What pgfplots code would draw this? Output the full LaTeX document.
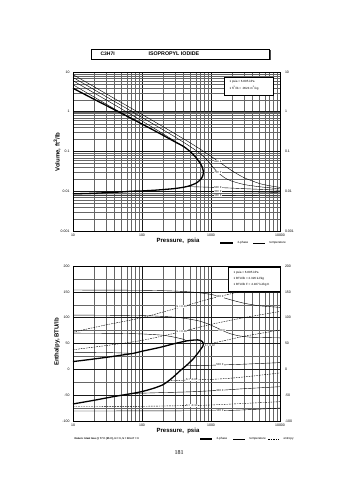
\documentclass[border=0pt]{standalone}
\usepackage{fontspec}
\setmainfont{Liberation Sans}
\newfontfamily\seriff{Liberation Serif}
\usepackage{pgfplots}
\pgfplotsset{compat=1.18}
\newcommand{\fs}[1]{\fontsize{#1}{#1}\selectfont}
\tikzset{
  dphase/.style={black, line width=1.3pt, smooth, tension=0.4},
  dtemp/.style={black, line width=0.4pt, smooth, tension=0.4},
  dent/.style={black, line width=0.4pt, dash pattern=on 1.6pt off 1pt, smooth, tension=0.4},
  clab/.style={font=\fs{2.8}, fill=white, inner sep=0.4pt},
  rlabel/.style={font=\fs{3.5}, anchor=west, xshift=1.5pt},
}
\begin{document}
\begin{tikzpicture}[x=1pt,y=1pt]
\fill[white] (0,0) rectangle (355,480);
% title box
\fill[black!70] (92.5,419.5) rectangle (270.5,429.5);
\fill[white] (91,421) rectangle (269,431);
\draw[line width=0.5pt] (91,421) rectangle (269,431);
\node[anchor=west, font=\fs{5}\bfseries] at (97,426) {C3H7I};
\node[anchor=west, font=\fs{5.3}\bfseries] at (145,426) {ISOPROPYL IODIDE};

% ================= TOP: volume =================
\begin{axis}[scale only axis, anchor=south west, at={(73pt,249pt)},
  width=207pt, height=159pt,
  xmode=log, ymode=log, xmin=10, xmax=10000, ymin=0.001, ymax=10,
  xtick={10,100,1000,10000}, xticklabels={10,100,1000,10000},
  ytick={0.001,0.01,0.1,1,10}, yticklabels={0.001,0.01,0.1,1,10},
  grid=both,
  major grid style={black!90, line width=0.5pt},
  minor grid style={black!60, line width=0.3pt},
  axis line style={black, line width=0.6pt},
  tick label style={font=\fs{3.5}},
  major tick length=0pt, minor tick length=0pt,
  clip=false]
% two-phase dome
\addplot[dphase] coordinates {(10,0.0086)(20,0.0089)(30,0.0092)(50,0.0096)(70,0.0100)(100,0.0102)(150,0.0106)(200,0.0110)(300,0.0117)(400,0.0126)(444,0.0131)(500,0.0139)(600,0.0158)(680,0.0185)(730,0.0212)(760,0.0245)(774,0.028)(768,0.034)(745,0.041)(700,0.050)(600,0.072)(500,0.099)(400,0.134)(300,0.175)(200,0.258)(150,0.338)(100,0.49)(70,0.68)(50,0.92)(30,1.45)(20,2.08)(10,3.9)};
% isotherms, vapour
\addplot[dtemp] coordinates {(10,8.6)(20,4.3)(30,2.86)(50,1.71)(100,0.855)(200,0.425)(300,0.28)(500,0.165)(700,0.114)(1000,0.076)(1260,0.057)(1600,0.043)(2000,0.033)(3000,0.022)(5000,0.0157)(7000,0.0138)(10000,0.0125)};
\addplot[dtemp] coordinates {(10,7.3)(20,3.64)(30,2.42)(50,1.45)(100,0.72)(200,0.355)(300,0.233)(500,0.133)(700,0.088)(900,0.058)(1100,0.038)(1260,0.0296)(1600,0.0215)(2000,0.018)(3000,0.0148)(5000,0.013)(10000,0.0115)};
\addplot[dtemp] coordinates {(10,6.05)(20,3.0)(30,2.0)(50,1.19)(100,0.585)(200,0.283)(300,0.181)(400,0.132)(444,0.118)};
\addplot[dtemp] coordinates {(10,4.78)(20,2.37)(30,1.57)(50,0.94)(70,0.68)};
% isotherms, liquid
\addplot[dtemp] coordinates {(444,0.0131)(600,0.0129)(1000,0.0126)(1260,0.0124)(2000,0.0120)(3000,0.0116)(5000,0.0112)(10000,0.0106)};
\addplot[dtemp] coordinates {(70,0.0100)(300,0.0100)(1260,0.0099)(3000,0.0097)(10000,0.0093)};
\addplot[dtemp] coordinates {(10,0.0080)(100,0.0080)(1260,0.0079)(3000,0.0078)(10000,0.0076)};
\node[clab] at (axis cs:1260,0.057) {900 F};
\node[clab] at (axis cs:1260,0.0296) {700 F};
\node[clab] at (axis cs:1260,0.0126) {500 F};
\node[clab] at (axis cs:1260,0.0099) {300 F};
\node[clab] at (axis cs:1260,0.0078) {100 F};
\node[rlabel] at (axis cs:10000,10) {10};
\node[rlabel] at (axis cs:10000,1) {1};
\node[rlabel] at (axis cs:10000,0.1) {0.1};
\node[rlabel] at (axis cs:10000,0.01) {0.01};
\node[rlabel] at (axis cs:10000,0.001) {0.001};
\end{axis}
% unit box top
\draw[fill=white, line width=0.4pt] (224,385) rectangle (273,403);
\node[anchor=west, font=\fs{3}] at (226,398) {1 psia = 6.895 kPa};
\node[anchor=west, font=\fs{3}] at (226,391.5) {1 ft\textsuperscript{3}/lb = .0624 m\textsuperscript{3}/kg};
% labels top
\node[rotate=90, font=\fs{6}\bfseries] at (57,328) {Volume, ft\textsuperscript{3}/lb};
\node[font=\fs{6}\bfseries] at (178,239) {Pressure,\ \ psia};
\draw[line width=1.3pt] (220,237) -- (233,237);
\node[anchor=west, font=\fs{3}] at (234,237) {2-phase};
\draw[line width=0.4pt] (253,237) -- (265,237);
\node[anchor=west, font=\fs{3}] at (266,237) {temperature};

% ================= BOTTOM: enthalpy =================
\begin{axis}[scale only axis, anchor=south west, at={(73pt,59pt)},
  width=207pt, height=155pt,
  xmode=log, xmin=10, xmax=10000,
  xtick={10,100,1000,10000}, xticklabels={10,100,1000,10000},
  ymin=-100, ymax=200, ytick={-100,-50,0,50,100,150,200},
  yticklabels={-100,-50,0,50,100,150,200},
  minor y tick num=1,
  grid=both,
  major grid style={black!90, line width=0.5pt},
  minor grid style={black!60, line width=0.3pt},
  axis line style={black, line width=0.6pt},
  tick label style={font=\fs{3.5}},
  major tick length=0pt, minor tick length=0pt,
  clip=false]
\addplot[dphase] coordinates {(10,-67)(20,-60)(38,-53)(70,-47)(100,-43)(145,-37)(200,-30)(250,-21)(300,-12)(355,-3)(444,8)(550,20)(650,32)(720,40)(760,44.5)(774,48)(770,51)(745,54)(700,56)(640,57)(550,56.5)(444,55)(300,50)(182,42.5)(100,35)(75,31)(38,25)(20,20)(10,15)};
% isotherms
\addplot[dtemp] coordinates {(10,153.5)(100,153)(300,151.5)(600,149)(1000,145)(1350,140.6)(2000,134)(3000,128)(5000,123)(10000,120)};
\addplot[dtemp] coordinates {(10,105)(100,104)(300,101)(500,97)(700,93)(900,88)(1100,83)(1429,76)(1800,70)(2500,65)(4000,62)(10000,61)};
\addplot[dtemp] coordinates {(10,70)(50,69.5)(100,68.5)(200,66)(300,62)(400,58)(444,55)};
\addplot[dtemp] coordinates {(444,8)(700,7.5)(1350,8.4)(3000,10)(10000,13)};
\addplot[dtemp] coordinates {(10,33)(30,32.5)(50,31.7)(72,31)};
\addplot[dtemp] coordinates {(72,-46.7)(200,-45)(500,-43.5)(1350,-40.6)(3000,-37.5)(10000,-33.6)};
\addplot[dtemp] coordinates {(10,-80.6)(100,-80.5)(500,-80.2)(1350,-80)(3000,-78.5)(10000,-75)};
% entropy lines
\addplot[dent] coordinates {(10,72)(30,86)(100,100)(376,121)(1000,137)(3000,152)(10000,166)};
\addplot[dent] coordinates {(10,38)(30,46)(100,56)(376,73)(1000,87)(3000,100)(10000,112)};
\addplot[dent] coordinates {(790,47)(1500,55)(3000,64)(10000,76)};
\addplot[dent] coordinates {(240,-22)(525,-20.6)(1000,-19.5)(2000,-17)(4000,-13)(10000,-7)};
\addplot[dent] coordinates {(10,-72)(100,-71.5)(525,-70)(1000,-69)(3000,-66)(10000,-62.6)};
\node[clab] at (axis cs:1350,140.6) {900 F};
\node[clab] at (axis cs:1429,76) {700 F};
\node[clab] at (axis cs:1350,8.4) {500 F};
\node[clab] at (axis cs:1350,-40.6) {300 F};
\node[clab] at (axis cs:1350,-80) {100 F};
\node[clab] at (axis cs:376,121) {S = 0.10};
\node[clab] at (axis cs:376,73) {S = 0.06};
\node[clab, anchor=west] at (axis cs:790,47) {S = 0.02};
\node[clab] at (axis cs:525,-20.6) {S = -0.02};
\node[clab] at (axis cs:525,-70) {S = -0.10};
\node[rlabel] at (axis cs:10000,200) {200};
\node[rlabel] at (axis cs:10000,150) {150};
\node[rlabel] at (axis cs:10000,100) {100};
\node[rlabel] at (axis cs:10000,50) {50};
\node[rlabel] at (axis cs:10000,0) {0};
\node[rlabel] at (axis cs:10000,-50) {-50};
\node[rlabel] at (axis cs:10000,-100) {-100};
\end{axis}
% unit box bottom
\draw[fill=white, line width=0.4pt] (228,189) rectangle (280,213);
\node[anchor=west, font=\fs{3}] at (230,207) {1 psia = 6.895 kPa};
\node[anchor=west, font=\fs{3}] at (230,201) {1 BTU/lb = 2.326 kJ/kg};
\node[anchor=west, font=\fs{3}] at (230,195) {1 BTU/lb F = 4.187 kJ/kg K};
\node[rotate=90, font=\fs{6}\bfseries] at (57,138) {Enthalpy, BTU/lb};
\node[font=\fs{6}\bfseries] at (178,49) {Pressure,\ \ psia};
\node[anchor=west, font=\fs{2.6}\bfseries] at (71,41) {Datum: Ideal Gas @ 77 F (25 C), H = 0, S = R ln P = 0};
\draw[line width=1.3pt] (200,41) -- (212,41);
\node[anchor=west, font=\fs{3}] at (213,41) {2-phase};
\draw[line width=0.4pt] (233,41) -- (245,41);
\node[anchor=west, font=\fs{3}] at (246,41) {temperature};
\draw[line width=0.4pt, dash pattern=on 1.6pt off 1pt] (268,41) -- (279,41);
\node[anchor=west, font=\fs{3}] at (280,41) {entropy};
% page number
\node[font=\seriff\fs{6}] at (179,27) {181};
\end{tikzpicture}
\end{document}
